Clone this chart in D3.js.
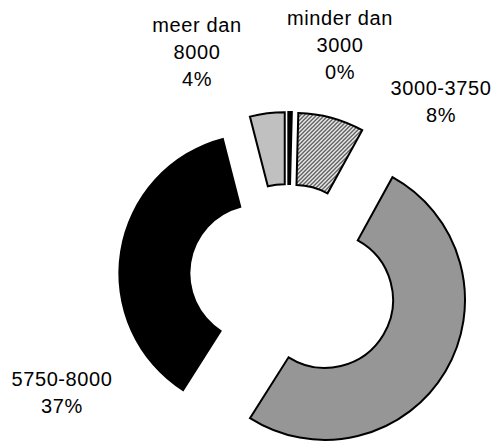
<!DOCTYPE html>
<html>
<head>
<meta charset="utf-8">
<script src="https://cdn.jsdelivr.net/npm/d3@7"></script>
<style>
html,body{margin:0;padding:0;background:#fff;}
svg{display:block;}
text{font-family:"Liberation Sans",Arial,sans-serif;fill:#000;}
</style>
</head>
<body>
<svg id="chart" width="499" height="442"></svg>
<script>
// ---- data ----
const categories = ["minder dan 3000", "3000-3750", "3750-5750", "5750-8000", "meer dan 8000"];
const values = [0.4, 7.6, 51, 37, 4];
const percentLabels = ["0%", "8%", "51%", "37%", "4%"];
const labelLines = [["minder dan", "3000"], ["3000-3750"], ["3750-5750"], ["5750-8000"], ["meer dan", "8000"]];
const showLabel = [true, true, false, true, true];

// ---- style / layout config ----
const fills = ["#000000", "url(#hatch)", "#969696", "#000000", "#c0c0c0"];
const strokes = ["#000", "#000", "#000", "none", "#000"];
const explode = [26, 26, 43, 30, 26];
const labelPos = [[340, 25], [441, 95], [0, 0], [62, 386], [197, 31.5]];
const center = [288, 278];
const outerR = 140, innerR = 68;
const lineH = 27;
const fontSize = 20;
const letterSpacing = 0.6;

const svg = d3.select("#chart");
const defs = svg.append("defs");
const pat = defs.append("pattern").attr("id", "hatch").attr("patternUnits", "userSpaceOnUse")
  .attr("width", 4).attr("height", 4);
pat.append("rect").attr("width", 4).attr("height", 4).attr("fill", "#fff");
pat.append("path").attr("d", "M-1,1 l2,-2 M0,4 l4,-4 M3,5 l2,-2")
  .attr("stroke", "#444").attr("stroke-width", 1.3);

const pie = d3.pie().sort(null).value(d => d).startAngle(0).endAngle(2 * Math.PI);
const arcs = pie(values);
const arc = d3.arc().innerRadius(innerR).outerRadius(outerR);

const g = svg.append("g").attr("transform", `translate(${center[0]},${center[1]})`);
g.selectAll("path.slice").data(arcs).join("path")
  .attr("class", "slice")
  .attr("transform", (d, i) => {
    const a = (d.startAngle + d.endAngle) / 2;
    return `translate(${explode[i] * Math.sin(a)},${-explode[i] * Math.cos(a)})`;
  })
  .attr("d", arc)
  .attr("fill", (d, i) => fills[i])
  .attr("stroke", (d, i) => strokes[i])
  .attr("stroke-width", 2)
  .attr("stroke-linejoin", "miter");

const lg = svg.append("g");
arcs.forEach((d, i) => {
  if (!showLabel[i]) return;
  const lines = labelLines[i].concat([percentLabels[i]]);
  const t = lg.append("text").attr("text-anchor", "middle").attr("font-size", fontSize)
    .attr("letter-spacing", letterSpacing)
    .attr("x", labelPos[i][0]).attr("y", labelPos[i][1]);
  lines.forEach((ln, k) => {
    t.append("tspan").attr("x", labelPos[i][0]).attr("y", labelPos[i][1] + k * lineH).text(ln);
  });
});
</script>
</body>
</html>
